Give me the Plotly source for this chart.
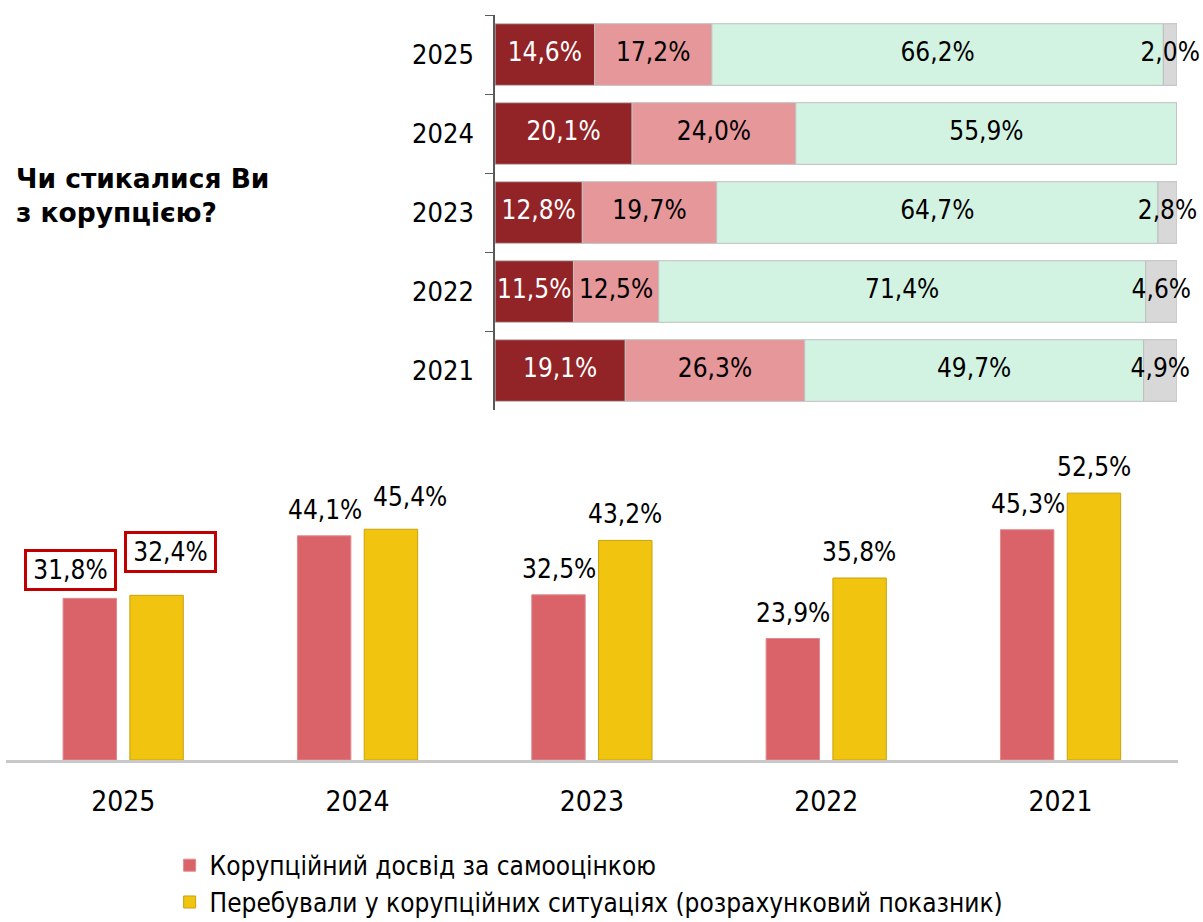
import plotly.graph_objects as go

years = ["2025", "2024", "2023", "2022", "2021"]

# верхня діаграма: розподіл відповідей, %
seg_names = ["Так, мали досвід", "Перебували в ситуаціях", "Ні", "Важко відповісти"]
seg_vals = [
    [14.6, 20.1, 12.8, 11.5, 19.1],
    [17.2, 24.0, 19.7, 12.5, 26.3],
    [66.2, 55.9, 64.7, 71.4, 49.7],
    [2.0, 0.0, 2.8, 4.6, 4.9],
]
seg_colors = ["#922326", "#E6979A", "#D3F3E2", "#D8D8D8"]
seg_text_colors = ["#FFFFFF", "#000000", "#000000", "#000000"]

# нижня діаграма
self_assessed = [31.8, 44.1, 32.5, 23.9, 45.3]
calculated = [32.4, 45.4, 43.2, 35.8, 52.5]
bottom_names = [
    "Корупційний досвід за самооцінкою",
    "Перебували у корупційних ситуаціях (розрахунковий показник)",
]
bottom_colors = ["#D96369", "#F1C40F"]
bottom_lines = ["#E08A8E", "#C9A20C"]

FONT = "DejaVu Sans Condensed, DejaVu Sans, sans-serif"


def pct(v):
    return f"{v:.1f}%".replace(".", ",")


fig = go.Figure()

# накопичені бази сегментів
bases = []
run = [0.0] * len(years)
for vals in seg_vals:
    bases.append(list(run))
    run = [r + v for r, v in zip(run, vals)]

for name, vals, base, col in zip(seg_names, seg_vals, bases, seg_colors):
    fig.add_trace(go.Bar(
        y=years, x=vals, base=base, orientation="h", name=name, width=0.78,
        marker=dict(color=col, line=dict(color="#BFBFBF", width=1)),
        xaxis="x", yaxis="y", showlegend=False, hoverinfo="skip",
        offsetgroup="top",
    ))

for vals, base, tcol in zip(seg_vals, bases, seg_text_colors):
    fig.add_trace(go.Scatter(
        y=[y for y, v in zip(years, vals) if v > 0],
        x=[b + v / 2 for b, v in zip(base, vals) if v > 0],
        text=[pct(v) for v in vals if v > 0],
        mode="text", textposition="middle center", cliponaxis=False,
        textfont=dict(family=FONT, size=26, color=tcol),
        xaxis="x", yaxis="y", showlegend=False, hoverinfo="skip",
    ))

for name, vals, col, lcol in zip(bottom_names, [self_assessed, calculated], bottom_colors, bottom_lines):
    fig.add_trace(go.Bar(
        x=years, y=vals, name=name, legendgroup=name,
        marker=dict(color=col, line=dict(color=lcol, width=1)),
        xaxis="x2", yaxis="y2", hoverinfo="skip",
    ))

# підписи значень над стовпчиками (x - індекс категорії)
label_shift = {("2025", 0): (-20, 28), ("2025", 1): (14, 43), ("2024", 1): (19, 32)}
boxed_labels = {("2025", 0), ("2025", 1)}
annotations = []
for i, vals in enumerate([self_assessed, calculated]):
    for j, (yr, v) in enumerate(zip(years, vals)):
        dx, dy = label_shift.get((yr, i), (0, 26))
        boxed = (yr, i) in boxed_labels
        ann = dict(
            x=j, y=v, xref="x2", yref="y2", showarrow=False,
            text=pct(v),
            xshift=(-33 if i == 0 else 33) + dx, yshift=dy,
            font=dict(family=FONT, size=26, color="#000000"),
        )
        if boxed:
            ann.update(bordercolor="#C00000", borderwidth=3, borderpad=3,
                       bgcolor="#FFFFFF", width=81)
        annotations.append(ann)

annotations.append(dict(
    x=0.012, y=0.788, xref="paper", yref="paper", xanchor="left", yanchor="middle",
    showarrow=False, align="left",
    text="<b>Чи стикалися Ви<br>з корупцією?</b>",
    font=dict(family="DejaVu Sans, sans-serif", size=26.5, color="#000000"),
))

fig.update_layout(
    width=1203, height=922,
    margin=dict(l=0, r=0, t=0, b=0, autoexpand=False),
    paper_bgcolor="#FFFFFF", plot_bgcolor="#FFFFFF",
    barmode="group",
    bargap=0.43, bargroupgap=0.2,
    annotations=annotations,
    xaxis=dict(domain=[0.4115, 0.9784], range=[0, 100], visible=False),
    yaxis=dict(
        type="category", domain=[0.5553, 0.9837], autorange="reversed", showline=True,
        linecolor="#595959", linewidth=1.5, ticks="outside", tickson="boundaries",
        ticklen=8, tickcolor="#595959", showgrid=False, zeroline=False,
        automargin=False, ticklabelstandoff=14,
        tickfont=dict(family=FONT, size=27, color="#000000"),
    ),
    xaxis2=dict(
        type="category", domain=[0.005, 0.979], anchor="y2", range=[-0.5, 4.5],
        showline=True, linecolor="#C8C8C8", linewidth=3, showgrid=False, ticks="",
        ticklabelstandoff=14, automargin=False,
        tickfont=dict(family=FONT, size=28, color="#000000"),
    ),
    yaxis2=dict(domain=[0.1757, 0.5065], anchor="x2", range=[0, 60], visible=False),
    legend=dict(
        x=0.141, y=0.087, xanchor="left", yanchor="top", traceorder="normal",
        tracegroupgap=12,
        font=dict(family=FONT, size=26, color="#000000"),
        bgcolor="rgba(0,0,0,0)",
    ),
)

fig.write_html(
    "out.html",
    config={"displayModeBar": False},
    post_script="document.body.style.margin='0';",
)
